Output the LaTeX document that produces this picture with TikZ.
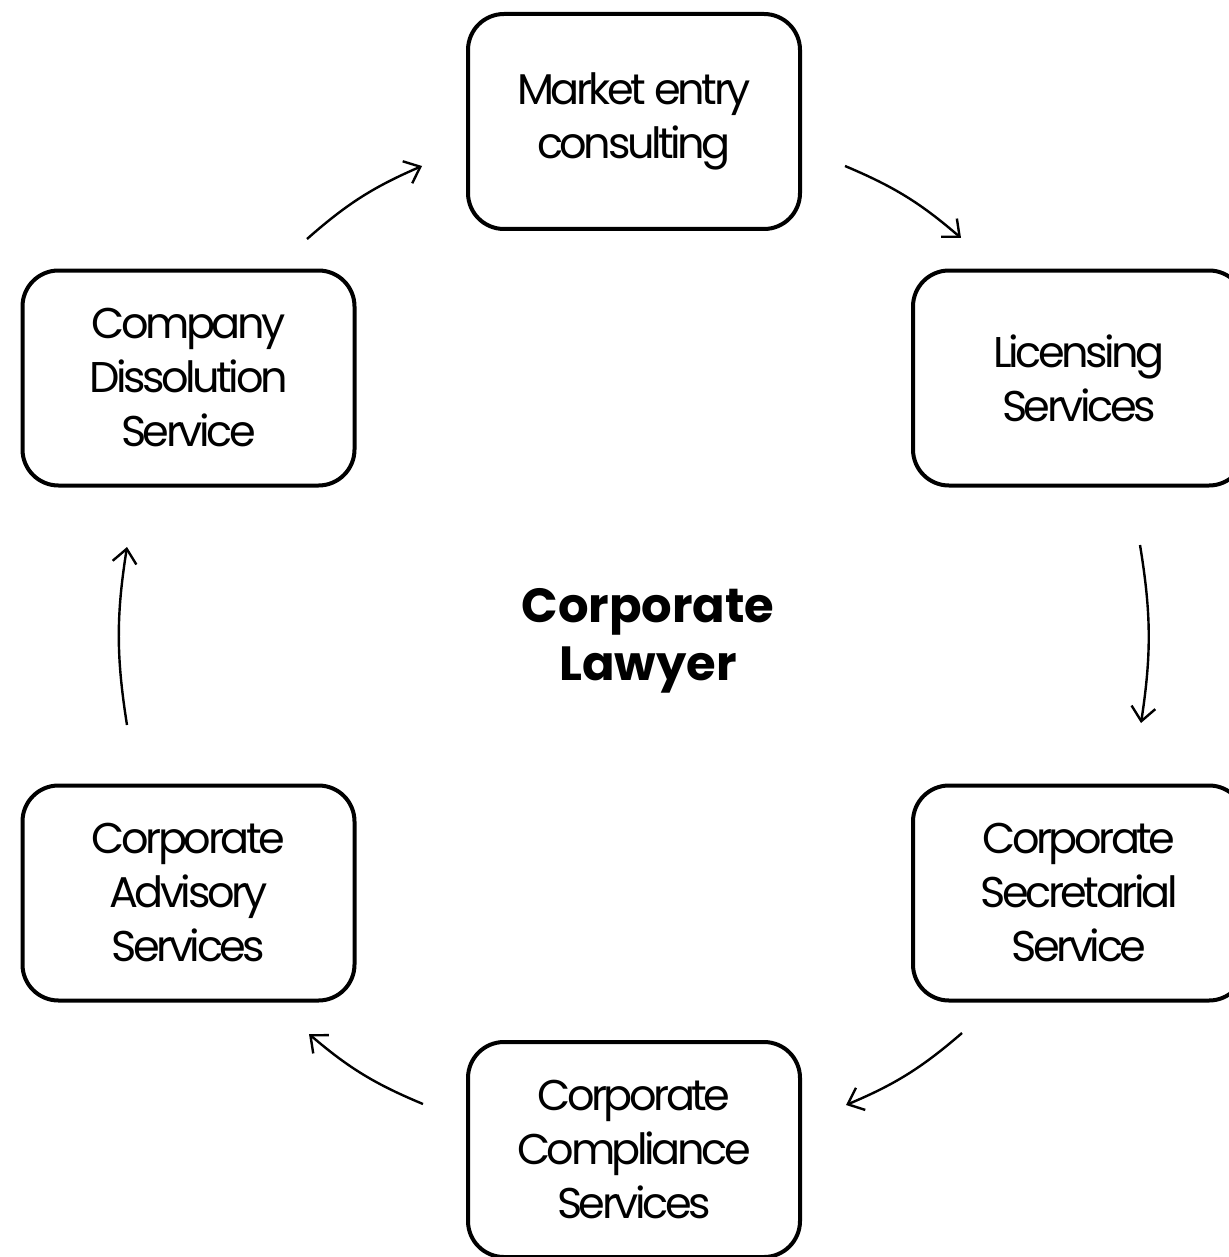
\documentclass[tikz,border=0pt]{standalone}
\usepackage{fontspec}
\setmainfont{Poppins}
\newfontfamily\servicefont[LetterSpace=-8]{Poppins}
\usetikzlibrary{arrows.meta}

\begin{document}
\begin{tikzpicture}[x=0.5pt, y=-0.5pt,
		service/.style={draw, line width=2pt, rounded corners=18pt, minimum width=166pt, minimum height=107.5pt, inner sep=0pt, align=center, font=\servicefont\fontsize{21.5}{27}\selectfont},
		hub/.style={align=center, font=\fontsize{24}{29}\selectfont\bfseries},
		flow/.style={-{Straight Barb[length=7pt, width=12pt]}, line width=1.2pt}]
		\useasboundingbox (0,0) rectangle (1229,1257);
		% services round the hub
		\node[service] (entry) at (634,121.5) {Market entry\\consulting};
		\node[service] (licensing) at (1079,378) {Licensing\\Services};
		\node[service] (secretarial) at (1079,893) {Corporate\\Secretarial\\Service};
		\node[service] (compliance) at (634,1149.5) {Corporate\\Compliance\\Services};
		\node[service] (advisory) at (188.5,893) {Corporate\\Advisory\\Services};
		\node[service] (dissolution) at (188.5,378) {Company\\Dissolution\\Service};
		\node[hub] (lawyer) at (648,641) {Corporate\\Lawyer};
		% cycle arrows
		\foreach \s/\e [count=\i] in {{307,239}/{422,166}, {845,166}/{961,238}, {1140,545}/{1141,723}, {962,1033}/{846,1105}, {423,1104}/{309,1034}, {127,725}/{127,547}} {
			\coordinate (from\i) at (\s);
			\coordinate (to\i) at (\e);
			\draw[flow] (from\i) to[bend left=9] (to\i);
		}
\end{tikzpicture}
\end{document}
